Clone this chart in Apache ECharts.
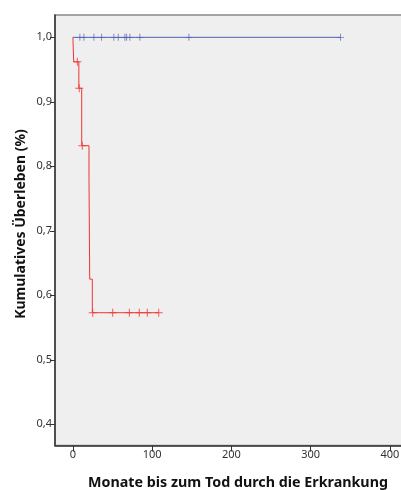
<!DOCTYPE html>
<html>
<head>
<meta charset="utf-8">
<script src="https://cdn.jsdelivr.net/npm/echarts@6/dist/echarts.min.js"></script>
<style>
html,body{margin:0;padding:0;background:#fff;}
#c{width:401px;height:490px;}
</style>
</head>
<body>
<div id="c"></div>
<script>
// Kaplan-Meier curves: [month, cumulative survival]
var redSteps = [[0,1.0],[1,0.962],[7.5,0.921],[11.1,0.832],[20.3,0.781],[21.2,0.625],[24.5,0.573],[108.3,0.573]];
var redCensorTimes = [5.6, 8.0, 11.8, 25.0, 50.2, 71.2, 83.8, 93.9, 108.3];
var redCensorValues = [0.962, 0.921, 0.832, 0.573, 0.573, 0.573, 0.573, 0.573, 0.573];
var blueSteps = [[0,1.0],[337.8,1.0]];
var blueCensorTimes = [8.8, 13.9, 26.5, 36.2, 51.7, 57.2, 65.6, 67.8, 71.9, 84.5, 146.4, 337.8];
var blueCensorValues = [1,1,1,1,1,1,1,1,1,1,1,1];
var xTicks = [0,100,200,300,400];
var yTicks = [0.4,0.5,0.6,0.7,0.8,0.9,1.0];
var xTitle = 'Monate bis zum Tod durch die Erkrankung';
var yTitle = 'Kumulatives Überleben (%)';

function zip(a,b){return a.map(function(v,i){return [v,b[i]];});}
var plus = 'path://M3.5,0H4.5V8H3.5Z M0,3.5H8V4.5H0Z';
var RED = '#f03434', BLUE = '#5060b4';

var chart = echarts.init(document.getElementById('c'), null, {renderer:'canvas'});
chart.setOption({
  animation:false,
  grid:{left:55, top:15, width:365, height:430.5, show:true, outerBoundsMode:'none', containLabel:false,
    backgroundColor:'#efefef', borderColor:'#8a8a8a', borderWidth:1.5},
  xAxis:{type:'value', min:-22.6, max:438, splitLine:{show:false},
    axisLine:{show:true, onZero:false, lineStyle:{color:'#333', width:1.5}},
    axisTick:{show:true, length:6, customValues:xTicks, lineStyle:{color:'#333'}},
    axisLabel:{customValues:xTicks, margin:4, fontSize:11, color:'#333', fontFamily:'Noto Sans'}},
  yAxis:{type:'value', min:0.3671, max:1.0346, splitLine:{show:false},
    axisLine:{show:true, onZero:false, lineStyle:{color:'#333', width:1.5}},
    axisTick:{show:true, length:5, customValues:yTicks, lineStyle:{color:'#333'}},
    axisLabel:{customValues:yTicks, margin:3, fontSize:11, color:'#333', fontFamily:'Noto Sans',
      formatter:function(v){return v.toFixed(1).replace('.',',');}}},
  series:[
    {type:'line', step:'end', data:blueSteps, symbol:'none', lineStyle:{color:BLUE, width:1}, z:3},
    {type:'line', step:'end', data:redSteps, symbol:'none', lineStyle:{color:RED, width:1}, z:3},
    {type:'scatter', data:zip(blueCensorTimes, blueCensorValues), symbol:plus, symbolSize:[7,7], itemStyle:{color:BLUE}, z:4},
    {type:'scatter', data:zip(redCensorTimes, redCensorValues), symbol:plus, symbolSize:[8,8], itemStyle:{color:RED}, z:4}
  ],
  graphic:[
    {type:'text', x:238, y:483, style:{text:xTitle, font:'bold 14.3px "Noto Sans"', fill:'#111', align:'center', verticalAlign:'middle'}},
    {type:'text', x:21, y:224, rotation:Math.PI/2, style:{text:yTitle, font:'bold 14px "Noto Sans"', fill:'#111', align:'center', verticalAlign:'middle'}}
  ]
});
</script>
</body>
</html>
